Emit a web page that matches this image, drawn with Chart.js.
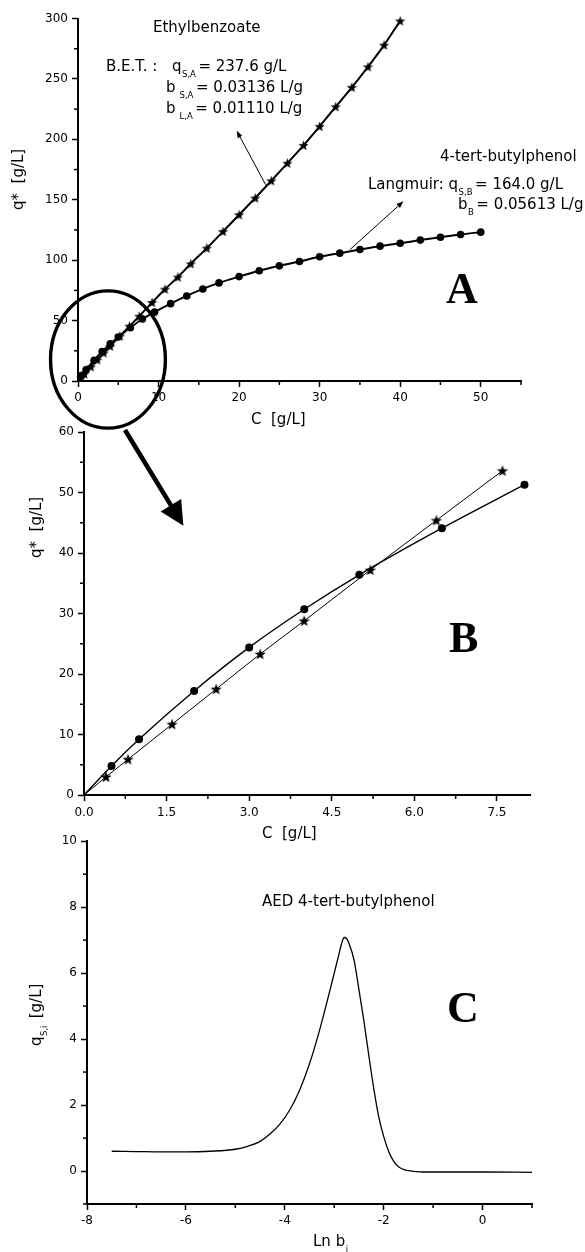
<!DOCTYPE html>
<html><head><meta charset="utf-8">
<script src="https://cdn.jsdelivr.net/npm/chart.js@4.4.1/dist/chart.umd.min.js"></script>
<style>
html,body{margin:0;padding:0;background:#fff;}
#wrap{position:relative;width:585px;height:1252px;overflow:hidden;background:#fff;}
canvas{position:absolute;left:0;}
</style></head><body>
<div id="wrap">
<canvas id="cA" width="585" height="420" style="top:0px;width:585px;height:420px"></canvas>
<canvas id="cB" width="585" height="410" style="top:420px;width:585px;height:410px"></canvas>
<canvas id="cC" width="585" height="422" style="top:830px;width:585px;height:422px"></canvas>
<canvas id="ov" width="585" height="1252" style="top:0px;width:585px;height:1252px"></canvas>
</div>
<script>
// ---------------- DATA ----------------
// Panel A : full isotherms
const A_EB_C = [0,0.4,0.8,1.6,2.4,3.2,4.0,5.2,6.4,7.6,9.2,10.8,12.4,14,16,18,20,22,24,26,28,30,32,34,36,38,40];
const A_EB_Q = [0,3.0,5.9,11.7,17.5,23.3,28.8,37.2,45.4,53.6,65,76,86,97,110,123.7,137.6,151.4,165.7,180.3,195,210.7,227,243,260,278,298];
const A_BP_C = [0,0.5,1,2,3,4,5,6.5,8,9.5,11.5,13.5,15.5,17.5,20,22.5,25,27.5,30,32.5,35,37.5,40,42.5,45,47.5,50];
const A_BP_Q = [0,4.8,9.2,17.2,24.4,30.7,36.4,44.1,51.3,57,64,70.4,76.2,81.2,86.4,91.2,95.3,98.9,102.8,105.8,108.8,111.6,114,116.6,119,121.3,123.2];
const A_X_TICKS = [0,10,20,30,40,50];
const A_X_LABELS = ['0','10','20','30','40','50'];
const A_X_MINOR = [5,15,25,35,45,55];
const A_Y_TICKS = [0,50,100,150,200,250,300];
const A_Y_LABELS = ['0','50','100','150','200','250','300'];
const A_Y_MINOR = [25,75,125,175,225,275];

// Panel B : low concentration range
const B_EB_C = [0,0.4,0.8,1.6,2.4,3.2,4.0,5.2,6.4,7.6];
const B_EB_Q = [0,3.0,5.9,11.7,17.5,23.3,28.8,37.2,45.4,53.6];
const B_BP_C = [0,0.5,1,2,3,4,5,6.5,8];
const B_BP_Q = [0,4.8,9.2,17.2,24.4,30.7,36.4,44.1,51.3];
const B_X_TICKS = [0,1.5,3,4.5,6,7.5];
const B_X_LABELS = ['0.0','1.5','3.0','4.5','6.0','7.5'];
const B_X_MINOR = [0.75,2.25,3.75,5.25,6.75];
const B_Y_TICKS = [0,10,20,30,40,50,60];
const B_Y_LABELS = ['0','10','20','30','40','50','60'];
const B_Y_MINOR = [5,15,25,35,45,55];

// Panel C : AED 4-tert-butylphenol
const C_LNB = [-7.5,-7,-6.5,-6,-5.5,-5,-4.75,-4.5,-4.3,-4.1,-3.9,-3.7,-3.5,-3.3,-3.1,-3.0,-2.9,-2.85,-2.8,-2.75,-2.7,-2.6,-2.5,-2.4,-2.3,-2.2,-2.1,-2.0,-1.9,-1.8,-1.7,-1.6,-1.5,-1.4,-1.2,-1,0,1];
const C_QS  = [0.6,0.59,0.58,0.58,0.6,0.66,0.75,0.9,1.12,1.42,1.85,2.45,3.25,4.25,5.4,6.0,6.6,6.9,7.08,7.05,6.9,6.4,5.5,4.55,3.5,2.5,1.65,1.05,0.6,0.3,0.13,0.05,0.01,-0.01,-0.03,-0.03,-0.03,-0.04];
const C_X_TICKS = [-8,-6,-4,-2,0];
const C_X_LABELS = ['-8','-6','-4','-2','0'];
const C_X_MINOR = [-7,-5,-3,-1,1];
const C_Y_TICKS = [0,2,4,6,8,10];
const C_Y_LABELS = ['0','2','4','6','8','10'];
const C_Y_MINOR = [-1,1,3,5,7,9];

// ---------------- SETUP ----------------
const FONT = "'DejaVu Sans', 'Liberation Sans', sans-serif";
Chart.defaults.font.family = FONT;
Chart.defaults.color = '#000';

function makeStar(r, ri) {
  const c = document.createElement('canvas');
  const s = Math.ceil(r * 2 + 2);
  c.width = s; c.height = s;
  const g = c.getContext('2d');
  g.translate(s / 2, s / 2 + 0.5);
  g.beginPath();
  for (let i = 0; i < 10; i++) {
    const rr = i % 2 ? ri : r;
    const a = -Math.PI / 2 + i * Math.PI / 5;
    g.lineTo(rr * Math.cos(a), rr * Math.sin(a));
  }
  g.closePath(); g.fillStyle = '#000'; g.fill();
  return c;
}
const STAR_A = makeStar(5.4, 2.2);
const STAR_B = makeStar(6.0, 2.4);

const minorPlugin = {
  id: 'minor',
  afterDraw(chart, args, o) {
    const ctx = chart.ctx, xs = chart.scales.x, ys = chart.scales.y;
    ctx.save(); ctx.strokeStyle = '#000'; ctx.lineWidth = 1.5;
    (o.x || []).forEach(v => { const p = xs.getPixelForValue(v); ctx.beginPath(); ctx.moveTo(p, xs.top); ctx.lineTo(p, xs.top + 4); ctx.stroke(); });
    (o.y || []).forEach(v => { const p = ys.getPixelForValue(v); ctx.beginPath(); ctx.moveTo(ys.right, p); ctx.lineTo(ys.right - 4, p); ctx.stroke(); });
    ctx.restore();
  }
};

function scaleOpts(pos, s) {
  return {
    type: 'linear', position: pos, min: s.min, max: s.max,
    grid: { display: true, drawOnChartArea: false, drawTicks: true, tickLength: 6, tickWidth: 1.5, tickColor: '#000' },
    border: { display: true, color: '#000', width: 2 },
    ticks: { color: '#000', font: { family: FONT, size: 12 }, padding: s.pad, autoSkip: false, maxRotation: 0,
      callback: (v, i) => s.labels[i] },
    afterBuildTicks: sc => { sc.ticks = s.ticks.map(v => ({ value: v })); },
    afterFit: sc => { if (pos === 'bottom') sc.height = s.size; else sc.width = s.size; }
  };
}

function series(xs, ys, st) {
  return {
    data: xs.map((x, i) => ({ x: x, y: ys[i] })),
    showLine: true, borderColor: '#000', backgroundColor: '#000', borderWidth: st.lw,
    pointStyle: st.ps, pointBackgroundColor: '#000', pointBorderWidth: 0,
    pointRadius: ctx => (xs[ctx.dataIndex] === 0 ? 0 : st.r),
    cubicInterpolationMode: 'monotone', clip: false
  };
}

function makeChart(id, cfg) {
  return new Chart(document.getElementById(id), {
    type: 'scatter',
    data: { datasets: cfg.datasets },
    options: {
      responsive: false, animation: false, devicePixelRatio: 1, events: [],
      layout: { padding: cfg.padding },
      plugins: { legend: { display: false }, tooltip: { enabled: false }, minor: { x: cfg.xMinor, y: cfg.yMinor } },
      scales: { x: scaleOpts('bottom', cfg.x), y: scaleOpts('left', cfg.y) }
    },
    plugins: [minorPlugin]
  });
}

const chA = makeChart('cA', {
  datasets: [
    series(A_EB_C, A_EB_Q, { lw: 2, ps: STAR_A, r: 5 }),
    series(A_BP_C, A_BP_Q, { lw: 2, ps: 'circle', r: 3.8 })
  ],
  padding: { left: 0, top: 18.5, right: 64, bottom: 9 },
  x: { min: 0, max: 55, ticks: A_X_TICKS, labels: A_X_LABELS, pad: 4, size: 30 },
  y: { min: 0, max: 300, ticks: A_Y_TICKS, labels: A_Y_LABELS, pad: 4, size: 78 },
  xMinor: A_X_MINOR, yMinor: A_Y_MINOR
});

const chB = makeChart('cB', {
  datasets: [
    series(B_EB_C, B_EB_Q, { lw: 1, ps: STAR_B, r: 5 }),
    series(B_BP_C, B_BP_Q, { lw: 1.4, ps: 'circle', r: 4 })
  ],
  padding: { left: 0, top: 12, right: 55, bottom: 5 },
  x: { min: 0, max: 8.1, ticks: B_X_TICKS, labels: B_X_LABELS, pad: 5, size: 30 },
  y: { min: 0, max: 60, ticks: B_Y_TICKS, labels: B_Y_LABELS, pad: 4, size: 84 },
  xMinor: B_X_MINOR, yMinor: B_Y_MINOR
});

const chC = makeChart('cC', {
  datasets: [
    Object.assign(series(C_LNB, C_QS, { lw: 1.3, ps: 'circle', r: 0 }), { pointRadius: 0 })
  ],
  padding: { left: 0, top: 10, right: 53, bottom: 18 },
  x: { min: -8, max: 1, ticks: C_X_TICKS, labels: C_X_LABELS, pad: 4, size: 30 },
  y: { min: -1, max: 10, ticks: C_Y_TICKS, labels: C_Y_LABELS, pad: 4, size: 87 },
  xMinor: C_X_MINOR, yMinor: C_Y_MINOR
});

// ---------------- OVERLAY (annotations) ----------------
const ov = document.getElementById('ov').getContext('2d');
const TOP_A = 0, TOP_B = 420, TOP_C = 830;
function P(ch, top, x, y) { return [ch.scales.x.getPixelForValue(x), top + ch.scales.y.getPixelForValue(y)]; }

function arrow(ctx, p0, p1, lw, hl, hw) {
  const dx = p1[0] - p0[0], dy = p1[1] - p0[1], L = Math.hypot(dx, dy);
  const ux = dx / L, uy = dy / L;
  const bx = p1[0] - ux * hl, by = p1[1] - uy * hl;
  ctx.save(); ctx.strokeStyle = '#000'; ctx.fillStyle = '#000'; ctx.lineWidth = lw;
  ctx.beginPath(); ctx.moveTo(p0[0], p0[1]); ctx.lineTo(bx + ux * 1, by + uy * 1); ctx.stroke();
  ctx.beginPath(); ctx.moveTo(p1[0], p1[1]);
  ctx.lineTo(bx - uy * hw, by + ux * hw); ctx.lineTo(bx + uy * hw, by - ux * hw); ctx.closePath(); ctx.fill();
  ctx.restore();
}

function rich(ctx, x, y, parts) {
  let cx = x;
  ctx.textBaseline = 'alphabetic'; ctx.textAlign = 'left'; ctx.fillStyle = '#000';
  for (const part of parts) {
    const t = part[0], k = part[1] || 'n';
    if (k === 'sub') { ctx.font = '8.5px ' + FONT; ctx.fillText(t, cx + 0.5, y + 6); cx += ctx.measureText(t).width + 3; }
    else { ctx.font = '15px ' + FONT; ctx.fillText(t, cx, y); cx += ctx.measureText(t).width; }
  }
}
function rotText(ctx, x, y, parts) {
  ctx.save(); ctx.translate(x, y); ctx.rotate(-Math.PI / 2); rich(ctx, 0, 0, parts); ctx.restore();
}

// ellipse around the low-concentration region of panel A
(function () {
  const c = P(chA, TOP_A, 3.72, 17.8);
  const ex = P(chA, TOP_A, 3.72 + 7.13, 17.8)[0] - c[0];
  const ey = c[1] - P(chA, TOP_A, 3.72, 17.8 + 56.8)[1];
  ov.save(); ov.strokeStyle = '#000'; ov.lineWidth = 3.4;
  ov.beginPath(); ov.ellipse(c[0], c[1], ex, ey, 0, 0, Math.PI * 2); ov.stroke(); ov.restore();
  // thick arrow to panel B
  arrow(ov, [125, 430], P(chB, TOP_B, 1.805, 44.5), 4.6, 24, 12);
  // thin pointer arrows
  arrow(ov, P(chA, TOP_A, 23.3, 162.4), P(chA, TOP_A, 19.7, 207.1), 1, 7, 2.6);
  arrow(ov, P(chA, TOP_A, 33.75, 108.6), P(chA, TOP_A, 40.4, 148.7), 1, 7, 2.6);
})();

// panel A texts
rich(ov, 153, 32, [['Ethylbenzoate']]);
rich(ov, 106, 71, [['B.E.T. :']]);
rich(ov, 172, 71, [['q'], ['S,A', 'sub'], ['= 237.6 g/L']]);
rich(ov, 166, 92, [['b']]); rich(ov, 179, 92, [['S,A', 'sub'], ['= 0.03136 L/g']]);
rich(ov, 166, 112.5, [['b']]); rich(ov, 179, 112.5, [['L,A', 'sub'], ['= 0.01110 L/g']]);
rich(ov, 440, 161, [['4-tert-butylphenol']]);
rich(ov, 368, 188.5, [['Langmuir: q'], ['S,B', 'sub'], ['= 164.0 g/L']]);
rich(ov, 458, 208.5, [['b'], ['B', 'sub'], ['= 0.05613 L/g']]);
rich(ov, 251, 424, [['C  [g/L]']]);
rotText(ov, 23, 210, [['q*  [g/L]']]);

// panel B texts
rich(ov, 262, 838, [['C  [g/L]']]);
rotText(ov, 41, 558, [['q*  [g/L]']]);

// panel C texts
rich(ov, 262, 906, [['AED 4-tert-butylphenol']]);
rich(ov, 313, 1246, [['Ln b'], ['i', 'sub']]);
rotText(ov, 41, 1046, [['q'], ['S,i', 'sub'], [' [g/L]']]);

// panel letters
ov.fillStyle = '#000'; ov.textBaseline = 'alphabetic'; ov.textAlign = 'left';
ov.font = "bold 44px 'Liberation Serif', 'DejaVu Serif', serif";
ov.fillText('A', 446, 303);
ov.fillText('B', 449, 652);
ov.fillText('C', 447, 1022);
</script>
</body></html>
